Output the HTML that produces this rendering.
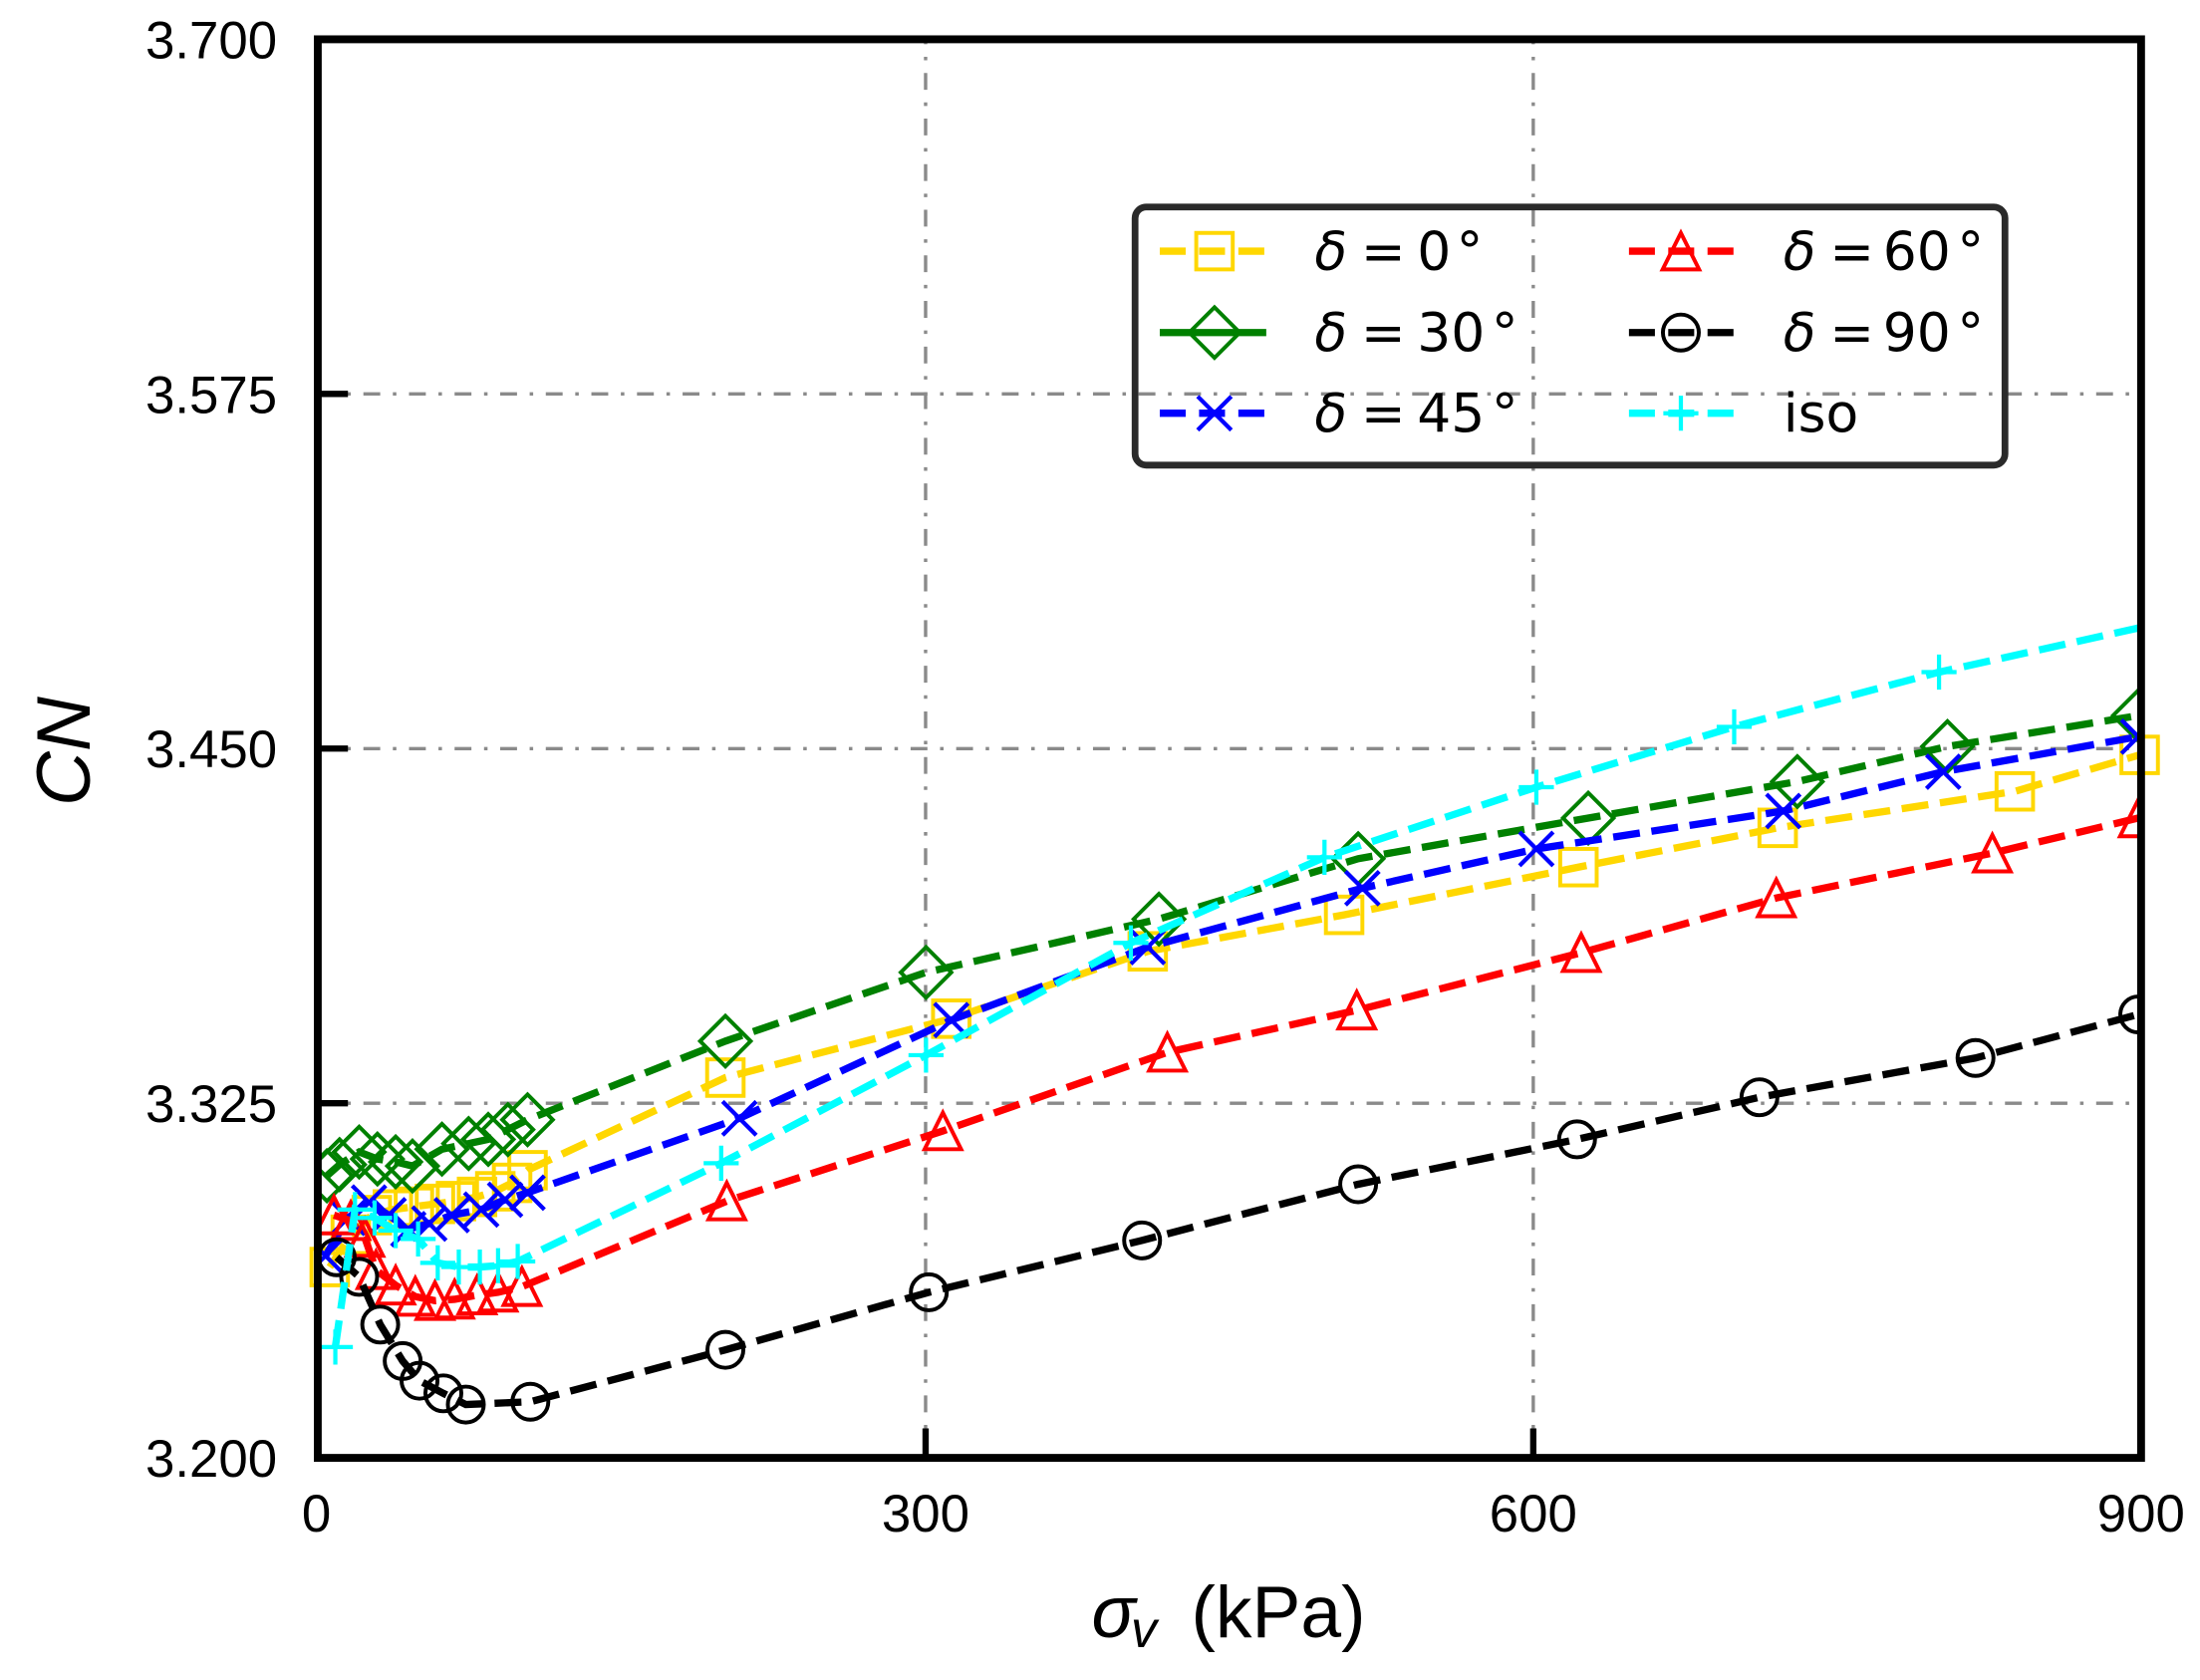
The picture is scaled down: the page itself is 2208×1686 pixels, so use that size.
<!DOCTYPE html>
<html>
<head>
<meta charset="utf-8">
<style>
html,body{margin:0;padding:0;background:#ffffff;overflow:hidden;}
svg{display:block;}
</style>
</head>
<body>
<svg xmlns="http://www.w3.org/2000/svg" width="2208" height="1686" viewBox="0 0 1568 1197.3">
<defs>
  <clipPath id="cp"><rect x="226.5" y="28" width="1299.5" height="1011"/></clipPath>
  <marker id="mS" markerUnits="userSpaceOnUse" viewBox="-25 -25 50 50" markerWidth="50" markerHeight="50" refX="0" refY="0" overflow="visible">
    <rect x="-13" y="-13" width="26" height="26" fill="none" stroke="#FFD700" stroke-width="2.8"/>
  </marker>
  <marker id="mD" markerUnits="userSpaceOnUse" viewBox="-25 -25 50 50" markerWidth="50" markerHeight="50" refX="0" refY="0" overflow="visible">
    <path d="M0,-18 L18,0 L0,18 L-18,0 Z" fill="none" stroke="#008000" stroke-width="2.8" stroke-linejoin="miter"/>
  </marker>
  <marker id="mX" markerUnits="userSpaceOnUse" viewBox="-25 -25 50 50" markerWidth="50" markerHeight="50" refX="0" refY="0" overflow="visible">
    <path d="M-12,-12 L12,12 M-12,12 L12,-12" fill="none" stroke="#0000FF" stroke-width="3"/>
  </marker>
  <marker id="mT" markerUnits="userSpaceOnUse" viewBox="-25 -25 50 50" markerWidth="50" markerHeight="50" refX="0" refY="0" overflow="visible">
    <path d="M0,-13 L13,13 L-13,13 Z" fill="none" stroke="#FF0000" stroke-width="2.8" stroke-linejoin="miter"/>
  </marker>
  <marker id="mO" markerUnits="userSpaceOnUse" viewBox="-25 -25 50 50" markerWidth="50" markerHeight="50" refX="0" refY="0" overflow="visible">
    <circle cx="0" cy="0" r="12.8" fill="none" stroke="#000000" stroke-width="2.8"/>
  </marker>
  <marker id="mP" markerUnits="userSpaceOnUse" viewBox="-25 -25 50 50" markerWidth="50" markerHeight="50" refX="0" refY="0" overflow="visible">
    <path d="M-12.5,0 L12.5,0 M0,-12.5 L0,12.5" fill="none" stroke="#00FFFF" stroke-width="3"/>
  </marker>
</defs>

<rect x="0" y="0" width="1568" height="1197.3" fill="#ffffff"/>

<!-- grid -->
<g stroke="#8a8a8a" stroke-width="2.4" stroke-dasharray="12 9 2.5 9" fill="none">
  <line x1="226.5" y1="786.25" x2="1526" y2="786.25"/>
  <line x1="226.5" y1="533.5" x2="1526" y2="533.5"/>
  <line x1="226.5" y1="280.75" x2="1526" y2="280.75"/>
  <line x1="659.7" y1="1039" x2="659.7" y2="28"/>
  <line x1="1092.8" y1="1039" x2="1092.8" y2="28"/>
</g>

<!-- series -->
<g fill="none" stroke-width="5.2" stroke-dasharray="19.2 8.3">
  <polyline stroke="#FFD700" marker-start="url(#mS)" marker-mid="url(#mS)" marker-end="url(#mS)"
    points="235,903 250,880 265,866 280,862 295,860 310,858 325,856 340,853 353,849 365,843 376,834 517,768 678,726 818,678 958,652 1125,618 1267,590 1436,564 1525,538"/>
  <g clip-path="url(#cp)">
    <polyline stroke="#008000" marker-start="url(#mD)" marker-mid="url(#mD)" marker-end="url(#mD)"
      points="233,838 242,830 256,821 269,826 282,828 294,831 315,819 334,815 348,812 362,805 376,798 517,742 660,693 826,655 968,612 1132,583 1281,557 1388,532 1524,510"/>
    <polyline stroke="#0000FF" marker-start="url(#mX)" marker-mid="url(#mX)" marker-end="url(#mX)"
      points="232,895 248,868 263,857 277,866 291,876 306,872 322,866 343,862 360,855 376,850 527,797 678,727 818,675 971,633 1095,605 1271,578 1385,550 1524,525"/>
    <polyline stroke="#FF0000" marker-start="url(#mT)" marker-mid="url(#mT)" marker-end="url(#mT)"
      points="238,866 250,870 260,882 268,905 282,916 296,924 310,927 324,926 340,923 355,921 372,917 518,856 672,806 832,750 967,720 1127,679 1266,640 1420,608 1524,583"/>
    <polyline stroke="#000000" marker-start="url(#mO)" marker-mid="url(#mO)" marker-end="url(#mO)"
      points="240,896 256,910 271,944 287,970 299,984 316,993 332,1001 378,999 517,962 662,921 814,884 968,844 1124,812 1254,782 1408,754 1524,723"/>
    <polyline stroke="#00FFFF" marker-start="url(#mP)" marker-mid="url(#mP)" marker-end="url(#mP)"
      points="239,960 253,862 267,868 282,877 298,883 312,900 327,903 342,903 355,902 369,899 514,829 660,752 806,672 944,611 1095,561 1236,518 1382,479 1671,415"/>
  </g>
</g>

<!-- spines -->
<rect x="226.5" y="28" width="1299.5" height="1011" fill="none" stroke="#000000" stroke-width="5.6"/>

<!-- ticks (inward) -->
<g stroke="#000000" stroke-width="4.5">
  <line x1="226.5" y1="28" x2="248" y2="28"/>
  <line x1="226.5" y1="280.75" x2="248" y2="280.75"/>
  <line x1="226.5" y1="533.5" x2="248" y2="533.5"/>
  <line x1="226.5" y1="786.25" x2="248" y2="786.25"/>
  <line x1="226.5" y1="1039" x2="248" y2="1039"/>
  <line x1="226.5" y1="1039" x2="226.5" y2="1018"/>
  <line x1="659.7" y1="1039" x2="659.7" y2="1018"/>
  <line x1="1092.8" y1="1039" x2="1092.8" y2="1018"/>
  <line x1="1526" y1="1039" x2="1526" y2="1018"/>
</g>

<!-- tick labels -->
<g font-family="'Liberation Sans', Arial, sans-serif" font-size="37.5" fill="#000000">
  <text x="197.5" y="41.4" text-anchor="end">3.700</text>
  <text x="197.5" y="294.2" text-anchor="end">3.575</text>
  <text x="197.5" y="546.9" text-anchor="end">3.450</text>
  <text x="197.5" y="799.7" text-anchor="end">3.325</text>
  <text x="197.5" y="1052.4" text-anchor="end">3.200</text>
  <text x="225.5" y="1091.5" text-anchor="middle">0</text>
  <text x="659.7" y="1091.5" text-anchor="middle">300</text>
  <text x="1092.8" y="1091.5" text-anchor="middle">600</text>
  <text x="1526" y="1091.5" text-anchor="middle">900</text>
</g>

<!-- axis labels -->
<text transform="translate(64,535.5) rotate(-90)" text-anchor="middle" font-family="'Liberation Sans', Arial, sans-serif" font-style="italic" font-size="54" fill="#000000">CN</text>
<text y="1166.8" font-family="'Liberation Sans', Arial, sans-serif" font-size="52" fill="#000000"><tspan x="778" font-style="italic">σ</tspan><tspan x="806" dy="7" font-size="37" font-style="italic">v</tspan><tspan x="849" dy="-7">(kPa)</tspan></text>

<!-- legend -->
<rect x="809" y="147.5" width="620" height="184" rx="8" ry="8" fill="none" stroke="#2a2a2a" stroke-width="4.8"/>
<g fill="none" stroke-width="5.2">
  <path d="M826.6,179 L865.6,179 L902.5,179" stroke="#FFD700" stroke-dasharray="18.5 9.5" marker-mid="url(#mS)"/>
  <path d="M826.6,237 L865.6,237 L902.5,237" stroke="#008000" marker-mid="url(#mD)"/>
  <path d="M826.6,294.5 L865.6,294.5 L902.5,294.5" stroke="#0000FF" stroke-dasharray="18.5 9.5" marker-mid="url(#mX)"/>
  <path d="M1161,179 L1198,179 L1236,179" stroke="#FF0000" stroke-dasharray="18.5 9.5" marker-mid="url(#mT)"/>
  <path d="M1161,237 L1198,237 L1236,237" stroke="#000000" stroke-dasharray="18.5 9.5" marker-mid="url(#mO)"/>
  <path d="M1161,294.5 L1198,294.5 L1236,294.5" stroke="#00FFFF" stroke-dasharray="18.5 9.5" marker-mid="url(#mP)"/>
</g>
<g font-family="'DejaVu Sans', 'Liberation Sans', sans-serif" font-size="38" fill="#000000">
  <text y="192"><tspan x="937" font-style="italic">δ</tspan><tspan x="970">=</tspan><tspan x="1010">0</tspan><tspan x="1038">°</tspan></text>
  <text y="250"><tspan x="937" font-style="italic">δ</tspan><tspan x="970">=</tspan><tspan x="1010">30</tspan><tspan x="1063">°</tspan></text>
  <text y="307.5"><tspan x="937" font-style="italic">δ</tspan><tspan x="970">=</tspan><tspan x="1010">45</tspan><tspan x="1063">°</tspan></text>
  <text y="192"><tspan x="1271" font-style="italic">δ</tspan><tspan x="1304">=</tspan><tspan x="1342">60</tspan><tspan x="1395">°</tspan></text>
  <text y="250"><tspan x="1271" font-style="italic">δ</tspan><tspan x="1304">=</tspan><tspan x="1342">90</tspan><tspan x="1395">°</tspan></text>
  <text y="307.5" x="1271">iso</text>
</g>
</svg>
</body>
</html>
